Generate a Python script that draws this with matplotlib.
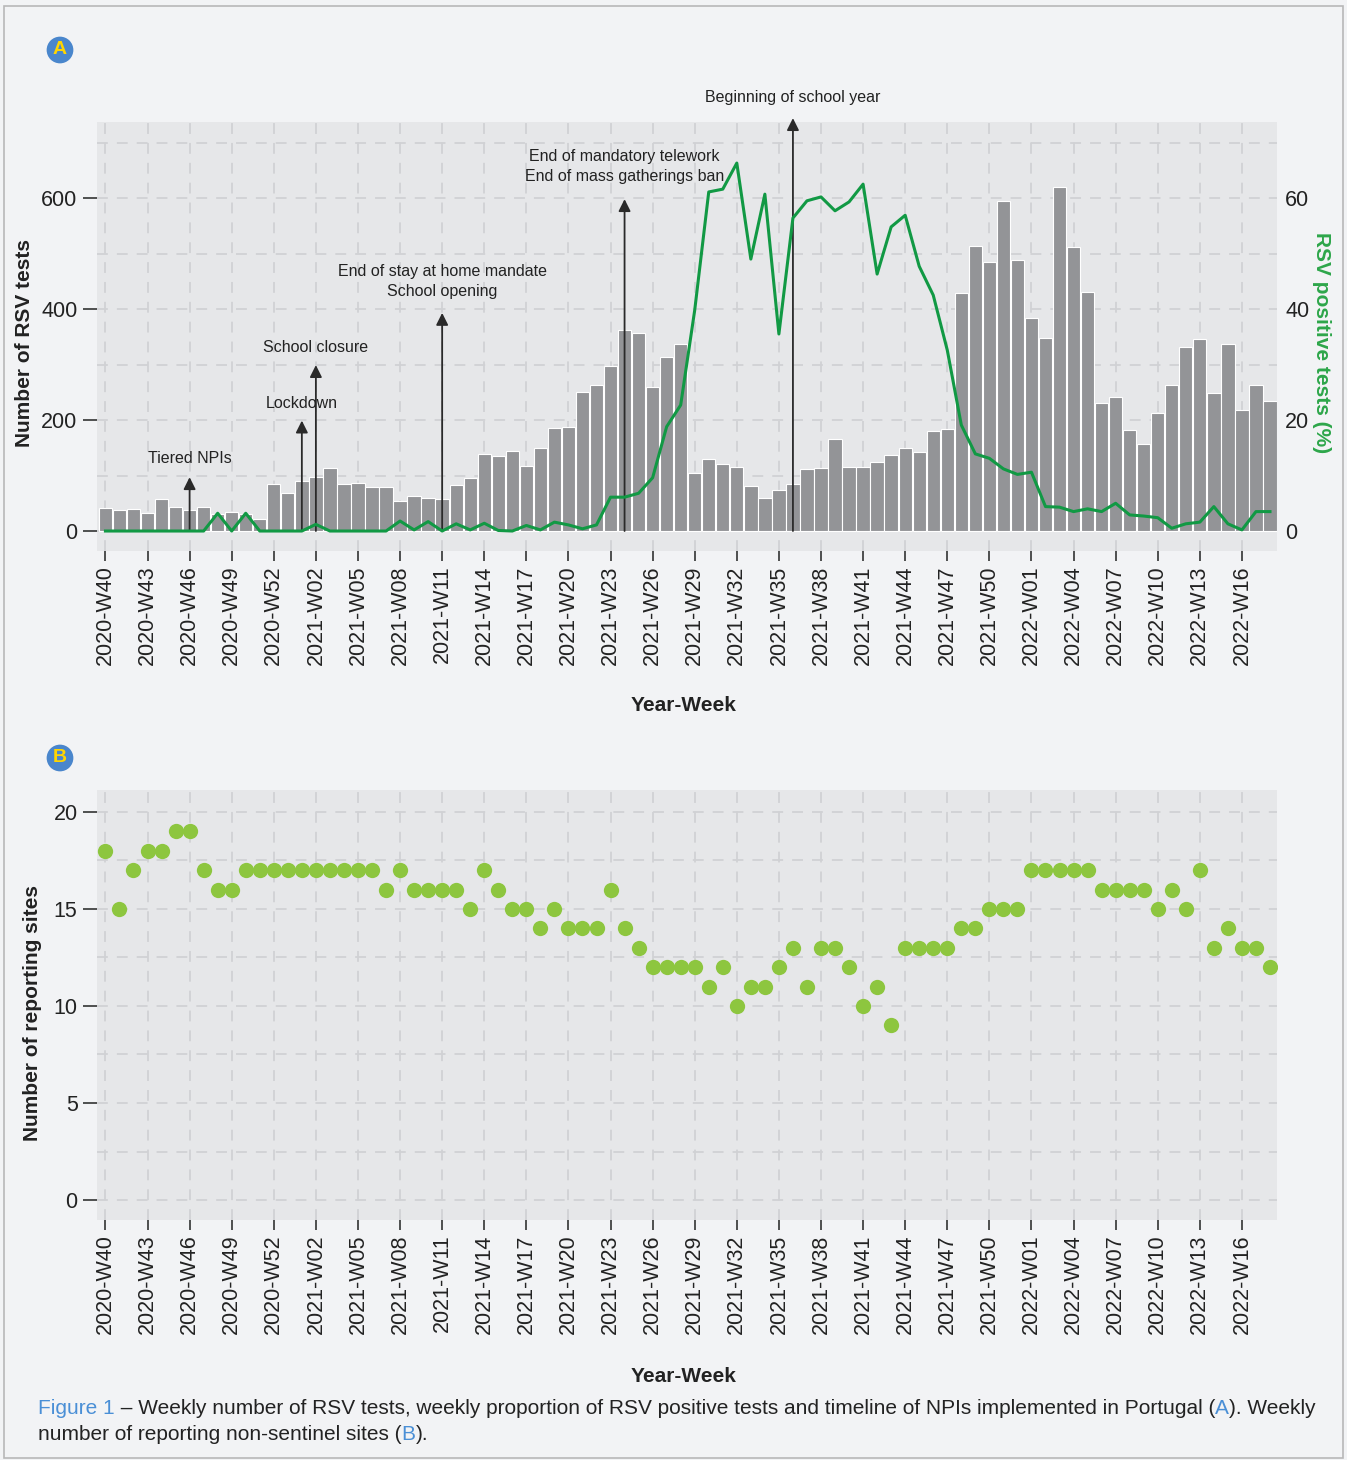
import matplotlib
matplotlib.use("Agg")
import matplotlib.pyplot as plt
import matplotlib.patches as patches
from matplotlib.ticker import FixedLocator
import numpy as np

plt.rcParams['font.family'] = ['Liberation Sans', 'DejaVu Sans']

# ---- data ----
weeks = ([f"2020-W{w:02d}" for w in range(40, 54)]
         + [f"2021-W{w:02d}" for w in range(1, 53)]
         + [f"2022-W{w:02d}" for w in range(1, 19)])

rsv_tests = [41, 37, 40, 33, 58, 43, 38, 43, 31, 34, 30, 22, 85, 69, 90, 97, 113, 85, 87, 79, 79,
             54, 63, 59, 57, 83, 95, 138, 136, 145, 117, 149, 185, 187, 250, 263, 297, 363, 356, 259, 313, 337,
             105, 130, 121, 115, 81, 59, 74, 85, 111, 113, 166, 115, 115, 124, 137, 150, 142, 180, 184, 429, 513,
             485, 594, 488, 384, 348, 620, 512, 431, 231, 241, 182, 157, 213, 263, 331, 346, 249, 337, 218, 263, 234]

rsv_positive = [0, 0, 0, 0, 0, 0, 0, 0, 3.2, 0, 3.2, 0, 0, 0, 0, 1.2, 0, 0, 0, 0, 0,
                1.8, 0.2, 1.7, 0, 1.3, 0.2, 1.4, 0.1, 0, 1.0, 0.2, 1.6, 1.1, 0.4, 1.1, 6.1, 6.1, 6.8, 9.6, 18.8, 22.7,
                39.8, 61.1, 61.6, 66.3, 49.0, 60.7, 35.5, 56.4, 59.5, 60.2, 57.7, 59.3, 62.5, 46.3, 54.8, 56.9, 47.7, 42.5, 32.6, 19.1, 13.9,
                13.1, 11.2, 10.2, 10.6, 4.4, 4.3, 3.5, 4.0, 3.5, 5.0, 2.9, 2.7, 2.4, 0.5, 1.3, 1.6, 4.4, 1.3, 0.2, 3.5, 3.5]

sites = [18, 15, 17, 18, 18, 19, 19, 17, 16, 16, 17, 17, 17, 17, 17, 17, 17, 17, 17, 17, 16,
         17, 16, 16, 16, 16, 15, 17, 16, 15, 15, 14, 15, 14, 14, 14, 16, 14, 13, 12, 12, 12,
         12, 11, 12, 10, 11, 11, 12, 13, 11, 13, 13, 12, 10, 11, 9, 13, 13, 13, 13, 14, 14,
         15, 15, 15, 17, 17, 17, 17, 17, 16, 16, 16, 16, 15, 16, 15, 17, 13, 14, 13, 13, 12]

# NPI timeline: week, arrow top (tests units), label, label height (tests units)
npi_weeks = ["2020-W46", "2021-W01", "2021-W02", "2021-W11", "2021-W24", "2021-W36"]
npi_tops = [97, 199, 299, 393, 598, 744]
npi_labels = ["Tiered NPIs", "Lockdown", "School closure",
              "End of stay at home mandate\nSchool opening",
              "End of mandatory telework\nEnd of mass gatherings ban",
              "Beginning of school year"]
npi_text_y = [131, 229, 330, 450, 657, 782]

# ---- style ----
W, H = 1347, 1460
fig_bg = '#f2f3f5'
ax_bg = '#e6e7e9'
grid_c = '#d0d1d4'
bar_c = '#939497'
line_c = '#119944'
dot_c = '#8dc63f'
blue = '#4a8fd6'
txt_c = '#222222'

fig = plt.figure(figsize=(W / 100, H / 100), dpi=100, facecolor=fig_bg)

x = np.arange(len(weeks))
tick_idx = list(range(0, len(weeks), 3))


def style_axes(ax):
    ax.set_facecolor(ax_bg)
    for s in ax.spines.values():
        s.set_visible(False)
    ax.set_xlim(-0.6, 83.5)
    ax.set_xticks(tick_idx)
    ax.set_xticklabels([weeks[i] for i in tick_idx], rotation=90, fontsize=15.5, color=txt_c)
    ax.tick_params(axis='x', which='major', direction='out', length=7, width=1.2,
                   color='#333333', labelsize=15.5, labelcolor=txt_c)
    ax.tick_params(axis='y', which='major', direction='out', length=10, width=1.2,
                   color='#333333', labelsize=15.5, labelcolor=txt_c, pad=4)
    ax.tick_params(axis='y', which='minor', length=0)
    ax.set_axisbelow(True)
    ax.xaxis.grid(True, which='major', linestyle=(0, (6, 5)), color=grid_c, lw=1.3)
    ax.yaxis.grid(True, which='both', linestyle=(0, (6, 5)), color=grid_c, lw=1.3)


# ---- panel A ----
ax = fig.add_axes([97 / W, 1 - 551 / H, 1180 / W, 429 / H])
style_axes(ax)
ax.bar(x, rsv_tests, width=0.95, color=bar_c, edgecolor='white', linewidth=0.8, zorder=2)
ax.set_ylim(-36, 737)
ax.yaxis.set_major_locator(FixedLocator([0, 200, 400, 600]))
ax.yaxis.set_minor_locator(FixedLocator([100, 300, 500, 700]))

for wk, top, lab, ty in zip(npi_weeks, npi_tops, npi_labels, npi_text_y):
    xi = weeks.index(wk)
    ax.annotate('', xy=(xi, top), xytext=(xi, 0), annotation_clip=False,
                arrowprops=dict(arrowstyle='-|>', color='#2a2a2a', lw=1.3,
                                mutation_scale=18, shrinkA=0, shrinkB=0), zorder=3)
    ax.text(xi, ty, lab, ha='center', va='center', fontsize=11.5, color=txt_c,
            linespacing=1.45, clip_on=False, zorder=4)

ax2 = ax.twinx()
for s in ax2.spines.values():
    s.set_visible(False)
ax2.plot(x, rsv_positive, color=line_c, lw=2.2, zorder=5)
ax2.set_ylim(-3.6, 73.7)
ax2.set_yticks([0, 20, 40, 60])
ax2.tick_params(axis='y', direction='out', length=0, pad=6,
                labelsize=15.5, labelcolor=txt_c)

# ---- panel B ----
bx = fig.add_axes([97 / W, 1 - 1220 / H, 1180 / W, 430 / H])
style_axes(bx)
bx.plot(x, sites, 'o', color=dot_c, markersize=11, markeredgewidth=0, zorder=3)
bx.set_ylim(-1.03, 21.13)
bx.yaxis.set_major_locator(FixedLocator([0, 5, 10, 15, 20]))
bx.yaxis.set_minor_locator(FixedLocator([2.5, 7.5, 12.5, 17.5]))

# ---- axis titles ----
fig.text(25 / W, 1 - 343 / H, "Number of RSV tests", rotation=90, ha='center', va='center',
         fontsize=15, fontweight='bold', color=txt_c)
fig.text(1322 / W, 1 - 343 / H, "RSV positive tests (%)", rotation=270, ha='center', va='center',
         fontsize=15, fontweight='bold', color='#2da64a')
fig.text(684 / W, 1 - 705 / H, "Year-Week", ha='center', va='center',
         fontsize=15, fontweight='bold', color=txt_c)
fig.text(33 / W, 1 - 1013 / H, "Number of reporting sites", rotation=90, ha='center', va='center',
         fontsize=15, fontweight='bold', color=txt_c)
fig.text(684 / W, 1 - 1377 / H, "Year-Week", ha='center', va='center',
         fontsize=15, fontweight='bold', color=txt_c)

# panel letters
for letter, py in [("A", 50), ("B", 758)]:
    fig.text(60 / W, 1 - py / H, letter, ha='center', va='center', fontsize=14,
             fontweight='bold', color='#ffd500',
             bbox=dict(boxstyle='circle,pad=0.25', fc='#4a86cc', ec='none'))

# ---- caption ----
renderer = fig.canvas.get_renderer()


def colored_line(x0, y, parts):
    xc = x0
    for s, c in parts:
        t = fig.text(xc, y, s, color=c, fontsize=15, ha='left', va='center')
        bb = t.get_window_extent(renderer=renderer)
        xc += bb.width / W


colored_line(38 / W, 1 - 1408 / H,
             [("Figure 1", blue),
              (" \u2013 Weekly number of RSV tests, weekly proportion of RSV positive tests and timeline of NPIs implemented in Portugal (", txt_c),
              ("A", blue), ("). Weekly", txt_c)])
colored_line(38 / W, 1 - 1435 / H,
             [("number of reporting non-sentinel sites (", txt_c), ("B", blue), (").", txt_c)])

fig.add_artist(patches.Rectangle((4 / W, 2 / H), 1339 / W, 1452 / H, transform=fig.transFigure,
                                 fill=False, ec='#b8b8b8', lw=1.2))

fig.savefig("out.png", dpi=100, facecolor=fig_bg)
